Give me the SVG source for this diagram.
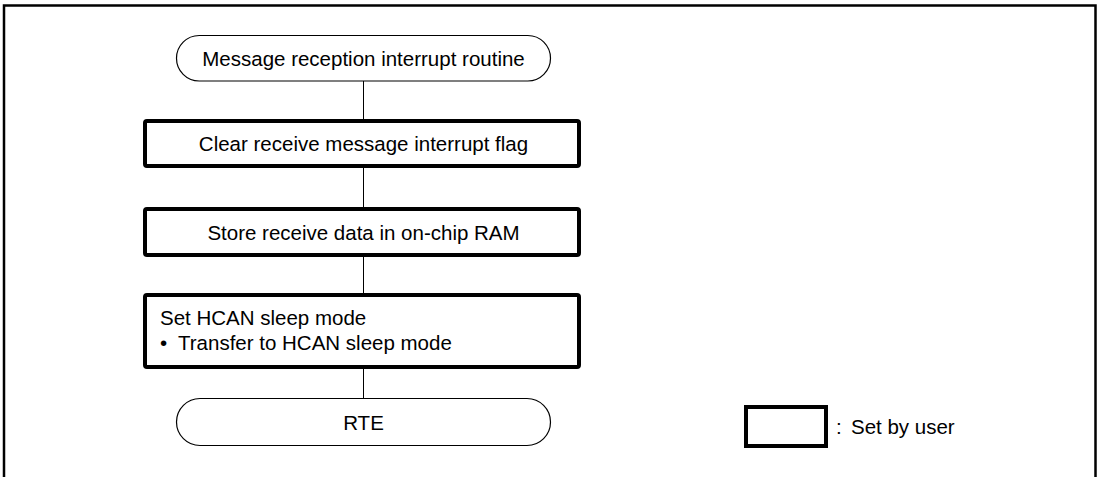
<svg xmlns="http://www.w3.org/2000/svg" width="1099" height="477" viewBox="0 0 1099 477">
<style>
text{font-family:"Liberation Sans",Arial,sans-serif;font-size:20.5px;fill:#000}
.c{text-anchor:middle}
.term{fill:#fff;stroke:#000;stroke-width:1.2}
.user{fill:#fff;stroke:#000;stroke-width:4}
.conn line{stroke:#000;stroke-width:1}
</style>
<rect width="1099" height="477" fill="#fff"/>
<path d="M4,480 V5.5 H1095.5 V480" fill="none" stroke="#000" stroke-width="2.5"/>
<g class="conn" id="connectors">
<line x1="363.5" y1="81" x2="363.5" y2="121"/>
<line x1="363.5" y1="166" x2="363.5" y2="209"/>
<line x1="363.5" y1="255" x2="363.5" y2="295"/>
<line x1="363.5" y1="367" x2="363.5" y2="398.5"/>
</g>
<g id="start">
<rect class="term" x="176.5" y="35.5" width="374" height="45.5" rx="22.75"/>
<text class="c" x="363.5" y="65.5">Message reception interrupt routine</text>
</g>
<g id="clear">
<rect class="user" x="145" y="121" width="434" height="45" rx="2"/>
<text class="c" x="363.5" y="151">Clear receive message interrupt flag</text>
</g>
<g id="store">
<rect class="user" x="145" y="209" width="434" height="46" rx="2"/>
<text class="c" x="363.5" y="239.5">Store receive data in on-chip RAM</text>
</g>
<g id="sleep">
<rect class="user" x="145" y="295" width="434" height="72" rx="2"/>
<text x="160" y="325">Set HCAN sleep mode</text>
<text x="160" y="350">•</text>
<text x="178" y="350">Transfer to HCAN sleep mode</text>
</g>
<g id="rte">
<rect class="term" x="176.5" y="398.5" width="374" height="47" rx="23.5"/>
<text class="c" x="363.5" y="429.5">RTE</text>
</g>
<g id="legend">
<rect class="user" x="746" y="407" width="80" height="39"/>
<text x="836" y="434">:</text>
<text x="851" y="434">Set by user</text>
</g>
</svg>
